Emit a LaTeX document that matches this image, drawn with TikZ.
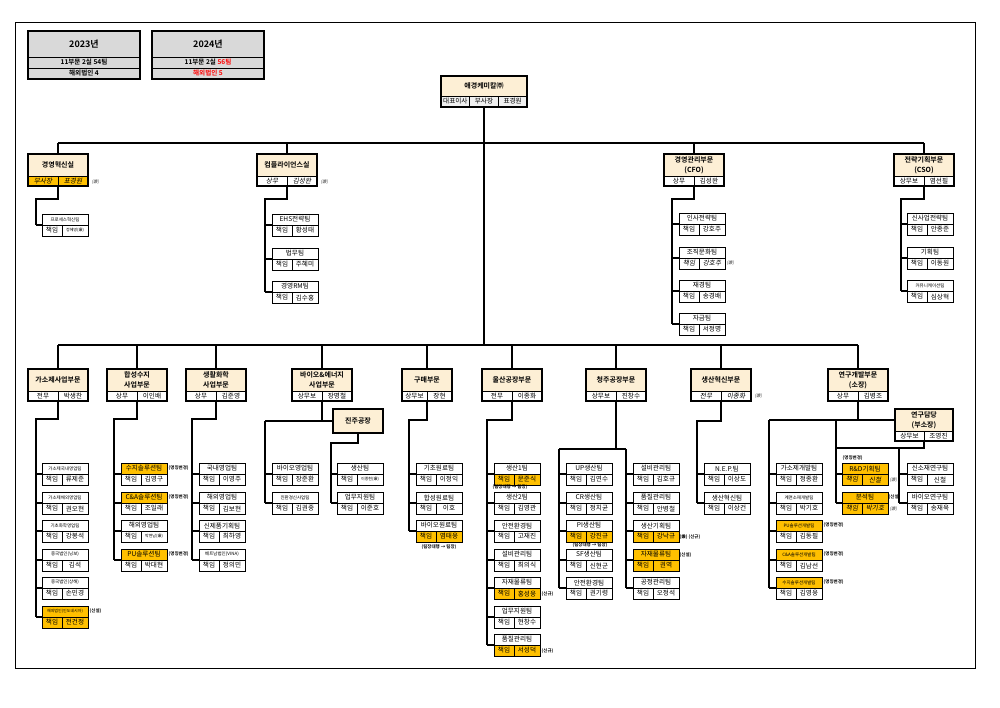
\documentclass[tikz,border=0pt]{standalone}
\usepackage{fontspec}
\setmainfont{Noto Sans CJK KR}[BoldFont={* Bold},ItalicFont={Noto Sans CJK KR},ItalicFeatures={FakeSlant=0.2}]
\usetikzlibrary{calc}
\definecolor{cream}{HTML}{FDEFD5}
\definecolor{gold}{HTML}{FFC000}
\definecolor{hgrey}{HTML}{D9D9D9}
\newcommand{\fs}{\fontsize{6.6}{7}\selectfont}
\newcommand{\fsm}{\fontsize{4.5}{5}\selectfont}
\newcommand{\fst}{\fontsize{4}{4.5}\selectfont}
\newcommand{\fb}{\fontsize{7}{10}\selectfont\bfseries}
\newcommand{\fh}{\fontsize{9}{10}\selectfont\bfseries}
\tikzset{
 x=1pt,y=-1pt,
 cell/.style={draw,line width=0.5pt,inner sep=0pt,outer sep=0pt,anchor=north west,font=\fs},
 conn/.style={line width=1.2pt},
 ann/.style={font=\fsm\bfseries,anchor=west,inner sep=0.5pt},
 jw/.style={font=\fsm\itshape,text=gray!60!black,anchor=west,inner sep=0.5pt},
 gd/.style={fill=gold},
 it/.style={font=\fs\itshape},
}
% team box: id x y topopts team lopts ropts person
\newcommand{\tm}[8]{%
 \node[cell,minimum width=46pt,minimum height=11pt,#4] (#1) at (#2,#3) {#5};
 \node[cell,minimum width=20pt,minimum height=11pt,#6] (#1l) at (#1.south west) {책임};
 \node[cell,minimum width=26pt,minimum height=11pt,#7] (#1r) at (#1l.north east) {#8};
 \draw[line width=1pt] (#1.north west) rectangle (#1r.south east);
}
% division box: id x y w name subopts title person
\newcommand{\dv}[8]{%
 \node[cell,fill=cream,minimum width=#4pt,minimum height=22pt,align=center,font=\fb] (#1) at (#2,#3) {#5};
 \node[cell,minimum width=#4pt/2,minimum height=10pt,#6] (#1a) at (#1.south west) {#7};
 \node[cell,minimum width=#4pt/2,minimum height=10pt,#6] (#1b) at (#1a.north east) {#8};
 \draw[line width=1.5pt] (#1.north west) rectangle (#1b.south east);
}
% group connector: parent splitY spineX lastchild
\newcommand{\grp}[4]{\draw[conn] (#1.south |- #1a.south) -- (#1.south |- 0,#2) -| (#3,0 |- #4.south west);}
\newcommand{\stubs}[2]{\foreach \n in {#2} {\draw[conn] (#1,0 |- \n.south west) -- (\n.south west);}}
\newcommand{\an}[4]{\node[#4] (#1) at (#2) {#3};}
\begin{document}
\begin{tikzpicture}
\useasboundingbox (0,0) rectangle (1000,707);
\fill[white] (0,0) rectangle (1000,707);
\draw[line width=0.9pt] (15,22) rectangle (975,668);

% header
\node[cell,fill=hgrey,minimum width=112pt,minimum height=26pt,font=\fh] (h1) at (28,31) {2023년};
\node[cell,fill=hgrey,minimum width=112pt,minimum height=11pt,font=\fs\bfseries] (h1b) at (h1.south west) {11부문 2실 54팀};
\node[cell,fill=hgrey,minimum width=112pt,minimum height=11pt,font=\fs\bfseries] (h1c) at (h1b.south west) {해외법인 4};
\draw[line width=1.2pt] (h1.north west) rectangle (h1c.south east);
\node[cell,fill=hgrey,minimum width=112pt,minimum height=26pt,font=\fh] (h2) at (152,31) {2024년};
\node[cell,fill=hgrey,minimum width=112pt,minimum height=11pt,font=\fs\bfseries] (h2b) at (h2.south west) {11부문 2실 \textcolor{red}{56팀}};
\node[cell,fill=hgrey,minimum width=112pt,minimum height=11pt,font=\fs\bfseries,text=red] (h2c) at (h2b.south west) {해외법인 5};
\draw[line width=1.2pt] (h2.north west) rectangle (h2c.south east);

% top
\node[cell,fill=cream,minimum width=86pt,minimum height=20pt,font=\fb] (top) at (441,76) {애경케미칼㈜};
\node[cell,fill=gray!12,minimum width=28.67pt,minimum height=11pt] (topa) at (top.south west) {대표이사};
\node[cell,fill=gray!12,minimum width=28.67pt,minimum height=11pt] (topb) at (topa.north east) {부사장};
\node[cell,fill=gray!12,minimum width=28.66pt,minimum height=11pt] (topc) at (topb.north east) {표경원};
\draw[line width=1.5pt] (top.north west) rectangle (topc.south east);

% row 2
\dv{d1}{28}{154}{60}{경영혁신실}{fill=gold,font=\fs\itshape}{부사장}{표경원}
\dv{d2}{257}{154}{60}{컴플라이언스실}{font=\fs\itshape}{상무}{김성완}
\dv{d3}{664}{154}{60}{경영관리부문\\(CFO)}{}{상무}{김성완}
\dv{d4}{894}{154}{60}{전략기획부문\\(CSO)}{}{상무보}{염선필}
\an{j1}{91,182}{(兼)}{jw}
\an{j2}{320,182}{(兼)}{jw}

\tm{a1}{42}{214}{}{\fsm 프로세스혁신팀}{}{}{\fst 정혜영(兼)}
\tm{b1}{272}{214}{}{EHS전략팀}{}{}{황성태}
\tm{b2}{272}{248}{}{법무팀}{}{}{주혜미}
\tm{b3}{272}{281}{}{경영RM팀}{}{}{김수홍}
\tm{c1}{679}{213}{}{인사전략팀}{}{}{강호주}
\tm{c2}{679}{247}{}{조직문화팀}{it}{it}{강호주}
\tm{c3}{679}{280}{}{재경팀}{}{}{송경배}
\tm{c4}{679}{313}{}{자금팀}{}{}{서정명}
\an{j3}{726,263}{(兼)}{jw}
\tm{s1}{907}{213}{}{신사업전략팀}{}{}{안종준}
\tm{s2}{907}{247}{}{기획팀}{}{}{이동원}
\tm{s3}{907}{280}{}{\fsm 커뮤니케이션팀}{}{}{심상혁}

% row 3
\dv{e1}{28}{369}{60}{가소제사업부문}{}{전무}{박생찬}
\dv{e2}{107}{369}{60}{합성수지\\사업부문}{}{상무}{이인배}
\dv{e3}{186}{369}{60}{생활화학\\사업부문}{}{상무}{김준영}
\dv{e4}{292}{369}{60}{바이오\&에너지\\사업부문}{}{상무보}{장명철}
\dv{e5}{402}{369}{50}{구매부문}{}{상무보}{장현}
\dv{e6}{482}{369}{60}{울산공장부문}{}{전무}{이종화}
\dv{e7}{586}{369}{60}{청주공장부문}{}{상무보}{진창수}
\dv{e8}{691}{369}{60}{생산혁신부문}{font=\fs\itshape}{전무}{이종화}
\dv{e9}{828}{369}{60}{연구개발부문\\(소장)}{}{상무}{김병조}
\dv{f1}{895}{409}{58}{연구담당\\(부소장)}{}{상무보}{조영진}
\node[cell,fill=cream,minimum width=50pt,minimum height=24pt,font=\fb,line width=1.5pt] (jj) at (333,409) {진주공장};
\an{j4}{754,396}{(兼)}{jw}

% 가소제
\tm{g1}{42}{463}{}{\fsm 가소제국내영업팀}{}{}{류제준}
\tm{g2}{42}{492}{}{\fsm 가소제해외영업팀}{}{}{권오현}
\tm{g3}{42}{520}{}{\fsm 기초화학영업팀}{}{}{강봉석}
\tm{g4}{42}{549}{}{\fsm 중국법인(닝보)}{}{}{김석}
\tm{g5}{42}{577}{}{\fsm 중국법인(상해)}{}{}{손민경}
\tm{g6}{42}{606}{gd}{\fst 해외법인(인도네시아)}{gd}{gd}{전건정}
\an{n1}{89,611.5}{(신설)}{ann}
% 합성수지
\tm{p1}{121}{463}{gd}{수지솔루션팀}{}{}{김영구}
\tm{p2}{121}{492}{gd}{C\&A솔루션팀}{}{}{조일래}
\tm{p3}{121}{520}{}{해외영업팀}{}{}{\fst 박현남(兼)}
\tm{p4}{121}{549}{gd}{PU솔루션팀}{}{}{박대현}
\an{n2}{168,468.5}{(명칭변경)}{ann}
\an{n3}{168,497.5}{(명칭변경)}{ann}
\an{n4}{168,554.5}{(명칭변경)}{ann}
% 생활화학
\tm{l1}{199}{463}{}{국내영업팀}{}{}{이영주}
\tm{l2}{199}{492}{}{해외영업팀}{}{}{김보현}
\tm{l3}{199}{520}{}{신제품기획팀}{}{}{최하영}
\tm{l4}{199}{549}{}{\fsm 베트남법인(VINA)}{}{}{정의민}
% 바이오
\tm{v1}{272}{463}{}{바이오영업팀}{}{}{장준환}
\tm{v2}{272}{492}{}{\fsm 친환경신사업팀}{}{}{김권중}
\tm{w1}{337}{463}{}{생산팀}{}{}{\fst 이종현(兼)}
\tm{w2}{337}{492}{}{업무지원팀}{}{}{이준호}
% 구매
\tm{k1}{416}{463}{}{기초원료팀}{}{}{이정익}
\tm{k2}{416}{492}{}{합성원료팀}{}{}{이호}
\tm{k3}{416}{520}{}{바이오원료팀}{gd}{gd}{염태웅}
\an{n5}{439,547}{(팀장대행 → 팀장)}{ann,anchor=center}
% 울산
\tm{u1}{494}{463}{}{생산1팀}{gd}{gd}{문준식}
\tm{u2}{494}{492}{}{생산2팀}{}{}{김영관}
\tm{u3}{494}{520}{}{안전환경팀}{}{}{고재진}
\tm{u4}{494}{549}{}{설비관리팀}{}{}{최의식}
\tm{u5}{494}{577}{}{자재물류팀}{gd}{gd}{홍성웅}
\tm{u6}{494}{606}{}{업무지원팀}{}{}{현창수}
\tm{u7}{494}{634}{}{품질관리팀}{gd}{gd}{서성덕}
\an{n6}{510,487.5}{(팀장대행 → 팀장)}{ann,anchor=center}
\an{n7}{541,594}{(신규)}{ann}
\an{n8}{541,651}{(신규)}{ann}
% 청주
\tm{q1}{566}{463}{}{UP생산팀}{}{}{김연수}
\tm{q2}{566}{492}{}{CR생산팀}{}{}{정치균}
\tm{q3}{566}{520}{}{PI생산팀}{gd}{gd}{강진규}
\tm{q4}{566}{549}{}{SF생산팀}{}{}{신현군}
\tm{q5}{566}{577}{}{안전환경팀}{}{}{권기령}
\tm{r1}{633}{463}{}{설비관리팀}{}{}{김호규}
\tm{r2}{633}{492}{}{품질관리팀}{}{}{안병철}
\tm{r3}{633}{520}{}{생산기획팀}{gd}{gd}{강낙규}
\tm{r4}{633}{549}{gd}{자재물류팀}{gd}{gd}{권역}
\tm{r5}{633}{577}{}{공정관리팀}{}{}{오정석}
\an{n9}{590,545.5}{(팀장대행 → 팀장)}{ann,anchor=center}
\an{n10}{679,537}{(兼) (신규)}{ann}
\an{n11}{679,555}{(신설)}{ann}
% 생산혁신
\tm{x1}{704}{463}{}{N.E.P.팀}{}{}{이상도}
\tm{x2}{704}{492}{}{생산혁신팀}{}{}{이상건}
% 연구개발
\tm{m1}{776}{463}{}{가소제개발팀}{}{}{정종환}
\tm{m2}{776}{492}{}{\fsm 계면소재개발팀}{}{}{박기호}
\tm{m3}{776}{520}{gd}{\fsm PU솔루션개발팀}{}{}{김동필}
\tm{m4}{776}{549}{gd}{\fsm C\&A솔루션개발팀}{}{}{김남선}
\tm{m5}{776}{577}{gd}{\fsm 수지솔루션개발팀}{}{}{김영웅}
\an{n12}{823,525.5}{(명칭변경)}{ann}
\an{n13}{823,554.5}{(명칭변경)}{ann}
\an{n14}{823,582.5}{(명칭변경)}{ann}
\tm{o1}{842}{463}{gd}{R\&D기획팀}{gd,it}{gd,it}{신철}
\tm{o2}{842}{492}{gd}{분석팀}{gd,it}{gd,it}{박기호}
\an{n15}{842,458}{(명칭변경)}{ann}
\an{j5}{889,480}{(兼)}{jw}
\an{n16}{888,497}{(신설)}{ann}
\an{j6}{889,509}{(兼)}{jw}
\tm{y1}{907}{463}{}{신소재연구팀}{}{}{신철}
\tm{y2}{907}{492}{}{바이오연구팀}{}{}{송재욱}

% connectors
\coordinate (b1L) at (58,143); \coordinate (b1R) at (924,143);
\coordinate (b2L) at (58,345); \coordinate (b2R) at (858,345);
\draw[conn] (topb.south) -- (topb.south |- b2L);
\draw[conn] (b1L) -- (b1R);
\draw[conn] (b2L) -- (b2R);
\foreach \d in {d1,d2,d3,d4} {\draw[conn] (\d.north |- b1L) -- (\d.north);}
\foreach \d in {e1,e2,e3,e4,e5,e6,e7,e8,e9} {\draw[conn] (\d.north |- b2L) -- (\d.north);}

\grp{d1}{199}{36}{a1} \stubs{36}{a1}
\grp{d2}{199}{265}{b3} \stubs{265}{b1,b2,b3}
\grp{d3}{199}{672}{c4} \stubs{672}{c1,c2,c3,c4}
\grp{d4}{199}{901}{s3} \stubs{901}{s1,s2,s3}

\grp{e1}{419}{36}{g6} \stubs{36}{g1,g2,g3,g4,g5,g6}
\grp{e2}{419}{114}{p4} \stubs{114}{p1,p2,p3,p4}
\grp{e3}{419}{192}{l4} \stubs{192}{l1,l2,l3,l4}
% bio
\draw[conn] (e4.south |- e4a.south) -- (e4.south |- jj.west);
\draw[conn] (265,0 |- jj.west) -- (jj.west);
\draw[conn] (265,0 |- jj.west) -- (265,0 |- v2.south west);
\stubs{265}{v1,v2}
\draw[conn] (jj.south) -- (jj.south |- 0,443) -| (331,0 |- w2.south west);
\stubs{331}{w1,w2}
\grp{e5}{420}{409}{k3} \stubs{409}{k1,k2,k3}
\grp{e6}{420}{487}{u7} \stubs{487}{u1,u2,u3,u4,u5,u6,u7}
% 청주
\draw[conn] (e7.south |- e7a.south) -- (e7.south |- 0,449);
\draw[conn] (559,449) -- (626,449);
\draw[conn] (559,449) -- (559,0 |- q5.south west);
\draw[conn] (626,449) -- (626,0 |- r5.south west);
\stubs{559}{q1,q2,q3,q4,q5}
\stubs{626}{r1,r2,r3,r4,r5}
\grp{e8}{421}{697}{x2} \stubs{697}{x1,x2}
% 연구개발
\draw[conn] (e9.south |- e9a.south) -- (e9.south |- f1.west);
\draw[conn] (769,0 |- f1.west) -- (f1.west);
\draw[conn] (769,0 |- f1.west) -- (769,0 |- m5.south west);
\stubs{769}{m1,m2,m3,m4,m5}
\draw[conn] (836,0 |- f1.west) -- (836,0 |- o2.south west);
\stubs{836}{o1,o2}
\draw[conn] (f1.south |- f1a.south) -- (f1.south |- 0,448) -- (836,448);
\draw[conn] (899,448) -- (899,0 |- y2.south west);
\stubs{899}{y1,y2}
\end{tikzpicture}
\end{document}
